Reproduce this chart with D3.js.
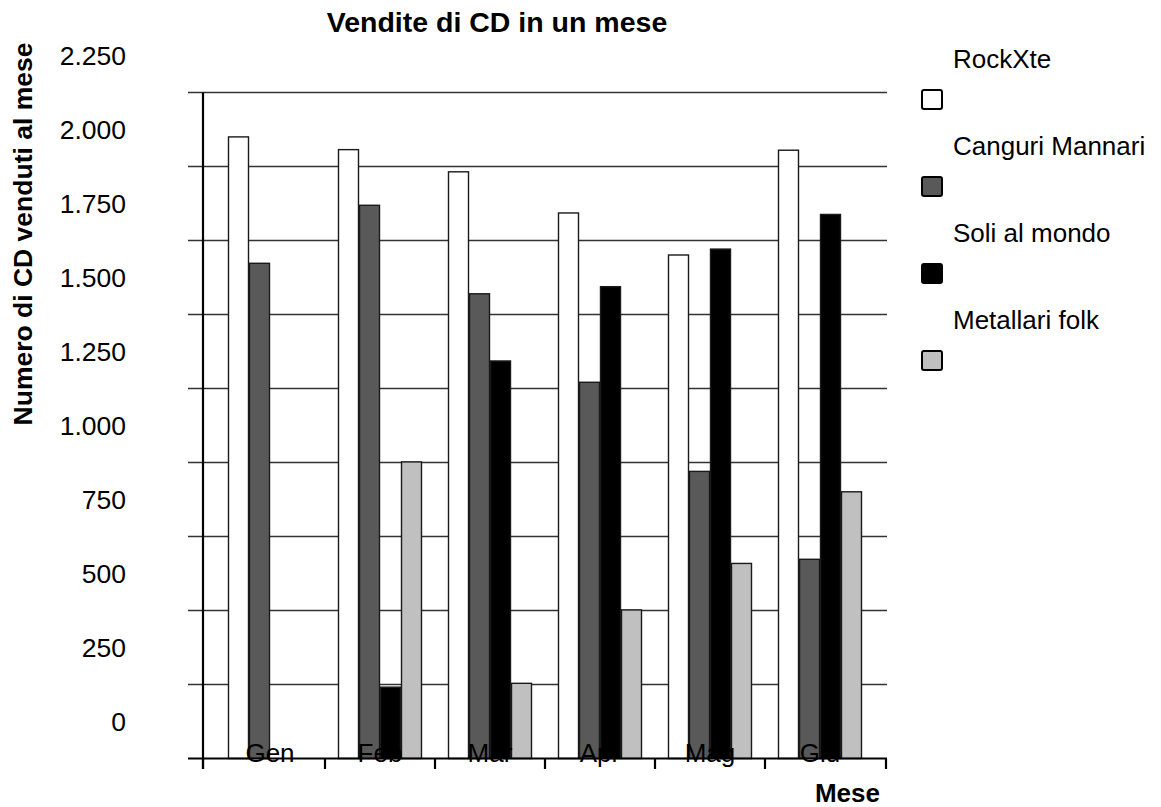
<!DOCTYPE html>
<html>
<head>
<meta charset="utf-8">
<script src="https://cdn.jsdelivr.net/npm/d3@7"></script>
<style>
  html, body { margin: 0; padding: 0; background: #fff; }
  svg { display: block; font-family: "Liberation Sans", Arial, sans-serif; }
</style>
</head>
<body>
<svg id="chart" width="1161" height="807"></svg>
<script>
// ---- data ----
const months = ["Gen", "Feb", "Mar", "Apr", "Mag", "Giu"];
const seriesNames = ["RockXte", "Canguri Mannari", "Soli al mondo", "Metallari folk"];
const rockXte = [2100, 2057, 1982, 1843, 1701, 2055];
const canguriMannari = [1673, 1869, 1570, 1271, 970, 673];
const soliAlMondo = [0, 241, 1343, 1594, 1721, 1838];
const metallariFolk = [0, 1002, 254, 502, 659, 901];
const yTicks = [0, 250, 500, 750, 1000, 1250, 1500, 1750, 2000, 2250];
const yTickLabels = ["0", "250", "500", "750", "1.000", "1.250", "1.500", "1.750", "2.000", "2.250"];
const colors = ["#ffffff", "#595959", "#000000", "#c0c0c0"];
const title = "Vendite di CD in un mese";
const yTitle = "Numero di CD venduti al mese";
const xTitle = "Mese";

const seriesValues = [rockXte, canguriMannari, soliAlMondo, metallariFolk];

// ---- layout ----
const svg = d3.select("#chart");
const plot = { left: 203, right: 887, top: 92.5, bottom: 758.5 };

const y = d3.scaleLinear().domain([0, 2250]).range([plot.bottom, plot.top]);
const x0 = d3.scaleBand().domain(months).range([plot.left, plot.right])
  .paddingInner(26 / 110).paddingOuter(25 / 110);
const x1 = d3.scaleBand().domain(seriesNames).range([0, x0.bandwidth()]).padding(0);
const step = y(0) - y(250);

// gridlines
svg.append("g").selectAll("line").data(yTicks.filter(d => d > 0)).join("line")
  .attr("x1", 188).attr("x2", plot.right)
  .attr("y1", d => y(d)).attr("y2", d => y(d))
  .attr("stroke", "#333").attr("stroke-width", 1.5);

// bars
const groups = svg.append("g").selectAll("g").data(months).join("g")
  .attr("transform", m => `translate(${x0(m)},0)`);
groups.selectAll("rect")
  .data((m, i) => seriesNames.map((s, j) => ({ s, j, v: seriesValues[j][i] })).filter(d => d.v > 0))
  .join("rect")
  .attr("x", d => x1(d.s) + 0.5)
  .attr("width", x1.bandwidth() - 1)
  .attr("y", d => y(d.v))
  .attr("height", d => y(0) - y(d.v))
  .attr("fill", d => colors[d.j])
  .attr("stroke", "#1a1a1a").attr("stroke-width", 1.4);

// y axis line
svg.append("line").attr("x1", plot.left).attr("x2", plot.left)
  .attr("y1", plot.top).attr("y2", 769)
  .attr("stroke", "#000").attr("stroke-width", 2.2);
// x axis line
svg.append("line").attr("x1", 188).attr("x2", plot.right)
  .attr("y1", plot.bottom).attr("y2", plot.bottom)
  .attr("stroke", "#000").attr("stroke-width", 2.2);
// x ticks at group boundaries
const halfGap = x0.step() * x0.paddingInner() / 2;
const tickXs = [plot.left].concat(months.slice(1).map(m => x0(m) - halfGap)).concat([plot.right - 1]);
svg.append("g").selectAll("line").data(tickXs).join("line")
  .attr("x1", d => d).attr("x2", d => d)
  .attr("y1", plot.bottom).attr("y2", 769)
  .attr("stroke", "#000").attr("stroke-width", 2.2);

// y tick labels (offset half a step, as in the reference)
svg.append("g").selectAll("text").data(yTicks).join("text")
  .attr("x", 126).attr("y", d => y(d) - step / 2)
  .attr("dy", "0.35em").attr("text-anchor", "end")
  .attr("font-size", 26.5).attr("fill", "#000")
  .text((d, i) => yTickLabels[i]);

// month labels
svg.append("g").selectAll("text").data(months).join("text")
  .attr("x", m => x0(m) + x0.bandwidth() / 2)
  .attr("y", 762).attr("text-anchor", "middle")
  .attr("font-size", 26).attr("fill", "#000")
  .text(m => m);

// title
svg.append("text").attr("x", 497).attr("y", 32).attr("text-anchor", "middle")
  .attr("font-size", 28.5).attr("font-weight", "bold").text(title);
// y title
svg.append("text").attr("transform", "translate(32,234) rotate(-90)")
  .attr("text-anchor", "middle").attr("font-size", 26.5).attr("font-weight", "bold").text(yTitle);
// x title
svg.append("text").attr("x", 880).attr("y", 802).attr("text-anchor", "end")
  .attr("font-size", 26).attr("font-weight", "bold").text(xTitle);

// legend
const legend = svg.append("g").selectAll("g").data(seriesNames).join("g")
  .attr("transform", (d, i) => `translate(0,${i * 87})`);
legend.append("text").attr("x", 953).attr("y", 68)
  .attr("font-size", 26).attr("fill", "#000").text(d => d);
legend.append("rect").attr("x", 922).attr("y", 90).attr("width", 20).attr("height", 19)
  .attr("rx", 2).attr("fill", (d, i) => colors[i])
  .attr("stroke", "#000").attr("stroke-width", 2);
</script>
</body>
</html>
